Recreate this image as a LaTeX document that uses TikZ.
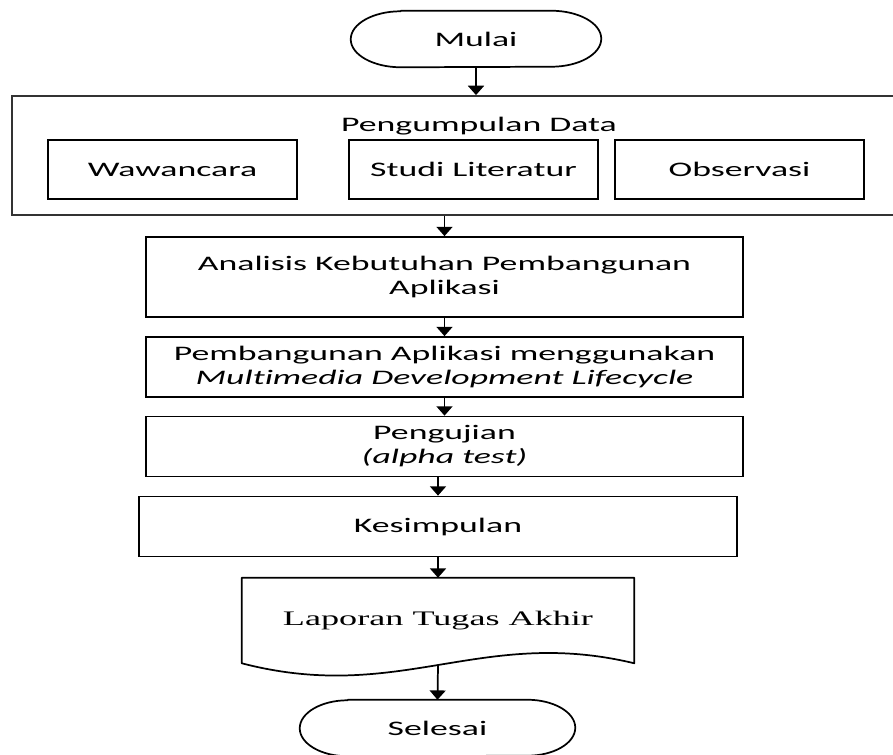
\documentclass[tikz,border=0pt]{standalone}
\usepackage{fontspec}
\setmainfont{Carlito}[FakeStretch=1.73, Ligatures=CommonOff]
\newfontfamily\docfont{Liberation Serif}[FakeStretch=1.75]
\usetikzlibrary{positioning, calc}
\usetikzlibrary{arrows.meta}
\def \px {0.75pt}
\tikzstyle{simplebox}=[rectangle,draw=black,line width=1.3pt,
align=center,inner sep=0pt]
\tikzstyle{framebox}=[rectangle,draw=black!80,line width=1.4pt,inner sep=0pt]
\tikzstyle{textbox}=[rectangle,align=center,inner sep=0pt]
\tikzstyle{outline}=[line width=1.3pt,line join=round]
\tikzstyle{edgepath} = [-{Triangle[width=12pt,length=7pt]},line width=1.3pt]
% terminal outline round a node: node, x radius, y radius
\newcommand{\termshape}[3]{%
    \draw[outline] ([xshift=#2]#1.north west) -- ([xshift=-#2]#1.north east)
        arc[start angle=90, end angle=-90, x radius=#2, y radius=#3]
        -- ([xshift=#2]#1.south west)
        arc[start angle=270, end angle=90, x radius=#2, y radius=#3] -- cycle;
}

\begin{document}
\begin{tikzpicture}[x=\px, y=-\px, font=\fontsize{15.5}{18}\selectfont]
        \useasboundingbox (0,0) rectangle (893,754);

        \node[textbox, minimum width=250*\px, minimum height=56*\px] (mulai) at (476,39) {Mulai};
        \termshape{mulai}{50*\px}{28*\px}

        \node[framebox, minimum width=884*\px, minimum height=119*\px] (data) at (454,155.5) {};
        \node[textbox] (datatitle) at (479,126) {Pengumpulan Data};
        \node[simplebox, minimum width=249*\px, minimum height=59*\px] (wawancara) at (172.5,169.5) {Wawancara};
        \node[simplebox, minimum width=249*\px, minimum height=59*\px] (studi) at (473.5,169.5) {Studi Literatur};
        \node[simplebox, minimum width=249*\px, minimum height=59*\px] (observasi) at (739.5,169.5) {Observasi};

        \node[simplebox, minimum width=597*\px, minimum height=80*\px] (analisis) at (444.5,277)
            {Analisis Kebutuhan Pembangunan\\Aplikasi};
        \node[simplebox, minimum width=597*\px, minimum height=60*\px] (pembangunan) at (444.5,367)
            {Pembangunan Aplikasi menggunakan\\\textit{Multimedia Development Lifecycle}};
        \node[simplebox, minimum width=597*\px, minimum height=60*\px] (pengujian) at (444.5,446.5)
            {Pengujian\\\textit{(alpha test)}};
        \node[simplebox, minimum width=598*\px, minimum height=60*\px] (kesimpulan) at (438,526.5) {Kesimpulan};

        \node[textbox, minimum width=392*\px, minimum height=85*\px] (laporan) at (438,620.5)
            {\docfont Laporan Tugas Akhir};
        \draw[outline] (laporan.north west) -- (laporan.north east) -- (laporan.south east)
            .. controls ($(laporan.south east)+(-154,-37)$) and ($(laporan.south west)+(158,41)$)
            .. (laporan.south west) -- cycle;
        \coordinate (lapbot) at ($(laporan.south)+(0,2)$);

        \node[textbox, minimum width=275*\px, minimum height=56*\px] (selesai) at (437.5,728) {Selesai};
        \termshape{selesai}{48*\px}{28*\px}

        \draw[edgepath] (mulai.south) -- (mulai.south |- data.north);
        \draw[edgepath] (data.south -| analisis.north) -- (analisis.north);
        \draw[edgepath] (analisis.south) -- (pembangunan.north);
        \draw[edgepath] (pembangunan.south) -- (pengujian.north);
        \draw[edgepath] (pengujian.south -| kesimpulan.north) -- (kesimpulan.north);
        \draw[edgepath] (kesimpulan.south) -- (laporan.north);
        \draw[edgepath] (lapbot) -- (selesai.north);
    \end{tikzpicture}
\end{document}
